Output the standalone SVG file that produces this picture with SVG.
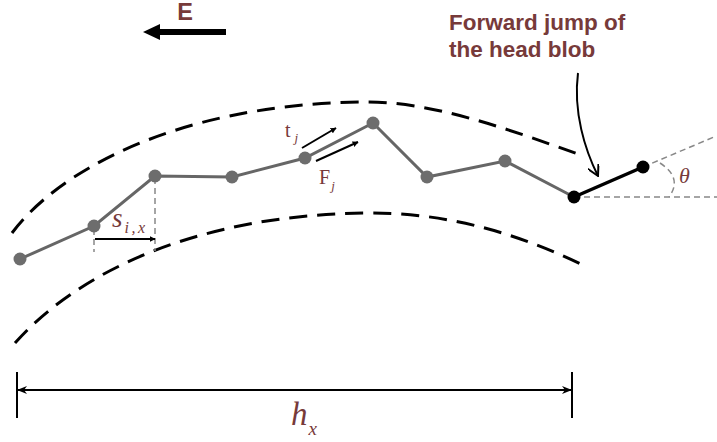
<svg xmlns="http://www.w3.org/2000/svg" width="717" height="442" viewBox="0 0 717 442">
<style>
.bound{fill:none;stroke:#000;stroke-width:3;stroke-dasharray:18,10}
.chain{fill:none;stroke:#666;stroke-width:3}
.node{fill:#6d6d6d}
.head{fill:#000}
.guide{fill:none;stroke:#888;stroke-width:1.5;stroke-dasharray:6,4}
.lbl{fill:#773a3a;font-family:"Liberation Sans",Arial,sans-serif;font-weight:bold}
.math{fill:#773a3a;font-family:"Liberation Serif","Times New Roman",serif}
.arr{fill:none;stroke:#000;stroke-width:2}
</style>
<defs>
<marker id="ah" viewBox="0 0 10 10" refX="9" refY="5" markerWidth="6" markerHeight="6" orient="auto" markerUnits="userSpaceOnUse">
<path d="M0,0 L10,5 L0,10 z" fill="#000"/>
</marker>
<marker id="sm" viewBox="0 0 10 10" refX="9" refY="5" markerWidth="10" markerHeight="10" orient="auto-start-reverse" markerUnits="userSpaceOnUse">
<path d="M0,1 L10,5 L0,9 L3,5 z" fill="#000"/>
</marker>
<marker id="open" viewBox="0 0 12 12" refX="11" refY="6" markerWidth="12" markerHeight="12" orient="auto" markerUnits="userSpaceOnUse">
<path d="M0,0 L11,6 L0,12" fill="none" stroke="#000" stroke-width="2"/>
</marker>
</defs>

<g id="field-E">
<line x1="226" y1="32" x2="158" y2="32" stroke="#000" stroke-width="6"/>
<path d="M143,32 L160,24 L160,40 z" fill="#000"/>
<text class="lbl" x="185" y="20" font-size="23.5" text-anchor="middle">E</text>
</g>

<g id="boundaries">
<path class="bound" d="M12,233 C55,175 170,105 360,102 C430,100 510,130 578,154"/>
<path class="bound" d="M15,343 C80,270 200,215 365,213 C450,212 520,235 583,265"/>
</g>

<g id="connectors">
<polyline class="chain" points="20,259 94,226 155,176 232,177 305,158 373,123 427,177 505,161 574,197"/>
<line x1="574" y1="197" x2="643" y2="167" stroke="#000" stroke-width="3.5"/>
<line class="guide" x1="574" y1="197" x2="717" y2="197"/>
<line class="guide" x1="643" y1="167" x2="714" y2="137"/>
<path class="guide" d="M660,163 Q683,178 669,197"/>
<line class="guide" x1="94" y1="229" x2="94" y2="252"/>
<line class="guide" x1="155" y1="178" x2="155" y2="251"/>
<line class="arr" x1="95" y1="239" x2="155" y2="239" marker-end="url(#ah)"/>
<line class="arr" x1="302" y1="148" x2="336" y2="128" marker-end="url(#ah)"/>
<line class="arr" x1="316" y1="161" x2="358" y2="142" marker-end="url(#ah)"/>
<path class="arr" d="M578,73 C573,112 585,150 598,176" marker-end="url(#open)"/>
<line x1="17" y1="372" x2="17" y2="418" stroke="#000" stroke-width="2"/>
<line x1="572" y1="372" x2="572" y2="418" stroke="#000" stroke-width="2"/>
<line x1="18" y1="390" x2="571" y2="390" stroke="#000" stroke-width="2" marker-start="url(#sm)" marker-end="url(#sm)"/>
</g>

<g id="n1"><circle class="node" cx="20" cy="259" r="6.5"/></g>
<g id="n2"><circle class="node" cx="94" cy="226" r="6.5"/></g>
<g id="n3"><circle class="node" cx="155" cy="176" r="6.5"/></g>
<g id="n4"><circle class="node" cx="232" cy="177" r="6.5"/></g>
<g id="n5"><circle class="node" cx="305" cy="158" r="6.5"/></g>
<g id="n6"><circle class="node" cx="373" cy="123" r="6.5"/></g>
<g id="n7"><circle class="node" cx="427" cy="177" r="6.5"/></g>
<g id="n8"><circle class="node" cx="505" cy="161" r="6.5"/></g>
<g id="head1"><circle class="head" cx="574" cy="197" r="6.5"/></g>
<g id="head2"><circle class="head" cx="643" cy="167" r="6.5"/></g>

<g id="labels">
<text class="lbl" x="449" y="30" font-size="22.5">Forward jump of</text>
<text class="lbl" x="449" y="57" font-size="22.5">the head blob</text>
<text class="math" x="285" y="137" font-size="20">t<tspan font-size="13" font-style="italic" dx="4" dy="5">j</tspan></text>
<text class="math" x="319" y="184" font-size="20">F<tspan font-size="13" font-style="italic" dx="1" dy="6">j</tspan></text>
<text class="math" x="112" y="227" font-size="27" font-style="italic">s<tspan font-size="16" dx="2" dy="6" letter-spacing="2.5">i,x</tspan></text>
<text class="math" x="679" y="183" font-size="22" font-style="italic">θ</text>
<text class="math" x="291" y="425" font-size="33" font-style="italic">h<tspan font-size="19" dx="1" dy="10">x</tspan></text>
</g>
</svg>
